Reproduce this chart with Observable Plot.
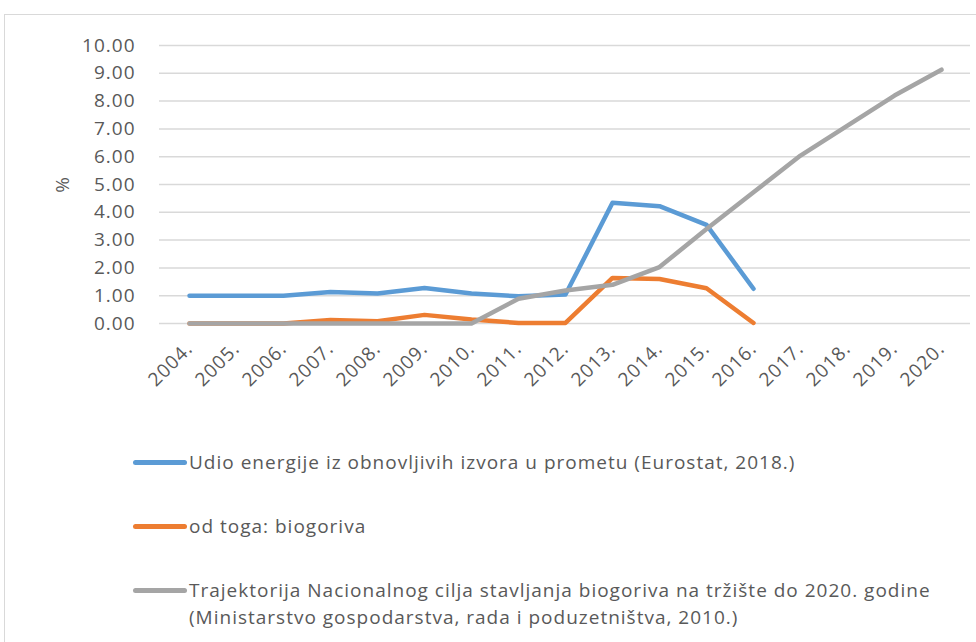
<!DOCTYPE html>
<html>
<head>
<meta charset="utf-8">
<script src="https://cdn.jsdelivr.net/npm/d3@7"></script>
<script src="https://cdn.jsdelivr.net/npm/@observablehq/plot@0.6"></script>
<style>
  body { margin: 0; background: #fff; }
  #wrap { position: relative; width: 976px; height: 642px; overflow: hidden; background: #fff; font-family: "Open Sans", sans-serif; }
  #frame { position: absolute; left: 4px; top: 14px; width: 990px; height: 660px; border: 1.5px solid #d9d9d9; box-sizing: border-box; }
  #chart { position: absolute; left: 0; top: 0; }
  #chart svg text { letter-spacing: 1px; }
  .leg { position: absolute; left: 0; top: 0; width: 976px; }
  .item { position: absolute; left: 133px; }
  .sw { position: absolute; left: 0; width: 54px; height: 5px; border-radius: 3px; }
  .txt { position: absolute; left: 56px; white-space: nowrap; font-size: 19px; letter-spacing: 1px; line-height: 27px; color: #595959; }
</style>
</head>
<body>
<div id="wrap">
  <div id="frame"></div>
  <div id="chart"></div>
  <div class="leg" id="legend"></div>
</div>
<script>
const years = ["2004.","2005.","2006.","2007.","2008.","2009.","2010.","2011.","2012.","2013.","2014.","2015.","2016.","2017.","2018.","2019.","2020."];
const renewableShare = [1.00, 1.00, 1.00, 1.13, 1.08, 1.28, 1.08, 0.98, 1.04, 4.34, 4.22, 3.55, 1.25];
const biofuelShare  = [0.00, 0.00, 0.00, 0.13, 0.08, 0.31, 0.14, 0.02, 0.02, 1.64, 1.60, 1.27, 0.02];
const targetTrajectory = [0, 0, 0, 0, 0, 0, 0, 0.89, 1.19, 1.39, 2.03, 3.40, 4.72, 6.04, 7.12, 8.20, 9.13];
const yTicks = [0, 1, 2, 3, 4, 5, 6, 7, 8, 9, 10];
const seriesNames = [
  "Udio energije iz obnovljivih izvora u prometu (Eurostat, 2018.)",
  "od toga: biogoriva",
  "Trajektorija Nacionalnog cilja stavljanja biogoriva na tržište do 2020. godine (Ministarstvo gospodarstva, rada i poduzetništva, 2010.)"
];
const legendLines = [
  ["Udio energije iz obnovljivih izvora u prometu (Eurostat, 2018.)"],
  ["od toga: biogoriva"],
  ["Trajektorija Nacionalnog cilja stavljanja biogoriva na tržište do 2020. godine", "(Ministarstvo gospodarstva, rada i poduzetništva, 2010.)"]
];
const seriesColors = ["#5B9BD5", "#ED7D31", "#A5A5A5"];

const seriesValues = [renewableShare, biofuelShare, targetTrajectory];
const data = [];
seriesValues.forEach((vals, i) => {
  vals.forEach((v, j) => data.push({ year: years[j], value: v, series: seriesNames[i] }));
});

const chart = Plot.plot({
  width: 976,
  height: 420,
  marginLeft: 159,
  marginRight: 6,
  marginTop: 45,
  marginBottom: 97,
  style: { fontFamily: "Open Sans, sans-serif", fontSize: "19px", color: "#595959", background: "transparent" },
  x: { type: "point", domain: years, padding: 0.5 },
  y: { domain: [0, 10] },
  color: { domain: seriesNames, range: seriesColors },
  marks: [
    Plot.ruleY(yTicks, { stroke: "#d9d9d9", strokeWidth: 1.5 }),
    Plot.axisY({ ticks: yTicks, tickFormat: d => d.toFixed(2), tickSize: 0, tickPadding: 24, label: "%", labelAnchor: "center", labelOffset: 104, labelArrow: "none" }),
    Plot.axisX({ tickRotate: -45, tickSize: 0, tickPadding: 22, label: null }),
    Plot.line(data, { x: "year", y: "value", z: "series", stroke: "series", strokeWidth: 4.5, strokeLinecap: "round", strokeLinejoin: "round" })
  ]
});
document.getElementById("chart").appendChild(chart);

const legend = document.getElementById("legend");
const centers = [462, 526, 590];
legendLines.forEach((lines, i) => {
  const item = document.createElement("div");
  item.className = "item";
  item.style.top = (centers[i] - 13.5) + "px";
  const sw = document.createElement("div");
  sw.className = "sw";
  sw.style.top = "11px";
  sw.style.background = seriesColors[i];
  const txt = document.createElement("div");
  txt.className = "txt";
  txt.innerHTML = lines.map(l => l.replace(/&/g, "&amp;").replace(/</g, "&lt;")).join("<br>");
  item.appendChild(sw);
  item.appendChild(txt);
  legend.appendChild(item);
});
</script>
</body>
</html>
